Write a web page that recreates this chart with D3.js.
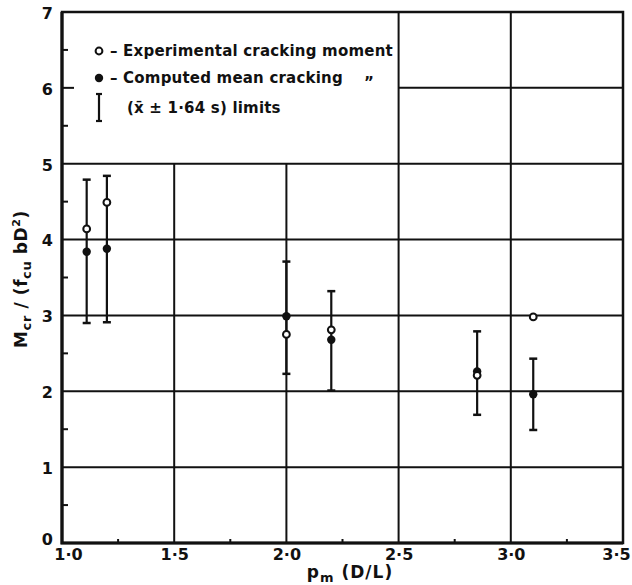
<!DOCTYPE html>
<html>
<head>
<meta charset="utf-8">
<script src="https://cdn.jsdelivr.net/npm/d3@7"></script>
<style>
  body { margin: 0; background: #fff; }
  text { font-family: "DejaVu Sans", sans-serif; fill: #111; }
  .tick text { font-weight: bold; font-size: 16px; }
</style>
</head>
<body>
<div id="chart"></div>
<script>
'use strict';

// values
const xValues = [1.11, 1.2, 2.0, 2.2, 2.85, 3.1];
const experimental = [4.14, 4.49, 2.75, 2.81, 2.21, 2.98];
const computedMean = [3.84, 3.88, 2.99, 2.68, 2.26, 1.96];
const upperLimit = [4.79, 4.84, 3.71, 3.32, 2.79, 2.43];
const lowerLimit = [2.90, 2.91, 2.23, 2.01, 1.69, 1.49];

const xTicks = [1.0, 1.5, 2.0, 2.5, 3.0, 3.5];
const xTickLabels = ["1\u00b70", "1\u00b75", "2\u00b70", "2\u00b75", "3\u00b70", "3\u00b75"];
const yTicks = [0, 1, 2, 3, 4, 5, 6, 7];
const xMinorTicks = [1.25, 1.75, 2.25, 2.75, 3.25];
const yMinorTicks = [0.5, 1.5, 2.5, 3.5, 4.5, 5.5, 6.5];

// grid segments: [value, from, to]
const hGrid = [[1, 1.0, 3.5], [2, 1.0, 3.5], [3, 1.0, 3.5], [4, 1.0, 3.5], [5, 1.0, 3.5], [6, 2.5, 3.5]];
const vGrid = [[1.5, 0, 5], [2.0, 0, 5], [2.5, 0, 7], [3.0, 0, 7]];

const width = 632, height = 585;
const plotLeft = 62, plotRight = 623, plotTop = 12, plotBottom = 543;

const svg = d3.select("#chart").append("svg")
    .attr("width", width)
    .attr("height", height);

const x = d3.scaleLinear().domain([1.0, 3.5]).range([plotLeft, plotRight]);
const y = d3.scaleLinear().domain([0, 7]).range([plotBottom, plotTop]);

// grid lines
svg.selectAll("line.hgrid")
    .data(hGrid)
    .enter()
    .append("line")
    .attr("x1", d => x(d[1]))
    .attr("x2", d => x(d[2]))
    .attr("y1", d => y(d[0]))
    .attr("y2", d => y(d[0]))
    .attr("stroke", "#111")
    .attr("stroke-width", 2);

svg.selectAll("line.vgrid")
    .data(vGrid)
    .enter()
    .append("line")
    .attr("x1", d => x(d[0]))
    .attr("x2", d => x(d[0]))
    .attr("y1", d => y(d[1]))
    .attr("y2", d => y(d[2]))
    .attr("stroke", "#111")
    .attr("stroke-width", 2);

// minor ticks
svg.selectAll("line.yminor")
    .data(yMinorTicks)
    .enter()
    .append("line")
    .attr("x1", plotLeft)
    .attr("x2", plotLeft + 6)
    .attr("y1", d => y(d))
    .attr("y2", d => y(d))
    .attr("stroke", "#111")
    .attr("stroke-width", 2);

svg.append("line")
    .attr("x1", plotLeft)
    .attr("x2", plotLeft + 12)
    .attr("y1", y(6))
    .attr("y2", y(6))
    .attr("stroke", "#111")
    .attr("stroke-width", 2);

svg.selectAll("line.xminor")
    .data(xMinorTicks)
    .enter()
    .append("line")
    .attr("x1", d => x(d))
    .attr("x2", d => x(d))
    .attr("y1", plotBottom)
    .attr("y2", plotBottom - 4)
    .attr("stroke", "#111")
    .attr("stroke-width", 2);

// frame
svg.append("rect")
    .attr("x", plotLeft)
    .attr("y", plotTop)
    .attr("width", plotRight - plotLeft)
    .attr("height", plotBottom - plotTop)
    .attr("fill", "none")
    .attr("stroke", "#111")
    .attr("stroke-width", 2.5);
svg.append("path")
    .attr("d", `M${plotLeft},${plotTop} V${plotBottom} H${plotRight}`)
    .attr("fill", "none")
    .attr("stroke", "#111")
    .attr("stroke-width", 3.2);

// axes (labels only)
const xAxis = svg.append("g")
    .attr("transform", `translate(0, ${plotBottom})`)
    .call(d3.axisBottom(x).tickValues(xTicks).tickSize(0).tickPadding(6)
        .tickFormat((d, i) => xTickLabels[i]));
xAxis.select(".domain").remove();
// first and last labels sit a little inside, as in the print
xAxis.selectAll(".tick text").attr("dx", (d, i) => i === 0 ? 6 : (i === xTicks.length - 1 ? -7 : 0));

const yAxis = svg.append("g")
    .attr("transform", `translate(${plotLeft}, 0)`)
    .call(d3.axisLeft(y).tickValues(yTicks).tickSize(0).tickPadding(9)
        .tickFormat(d3.format("d")));
yAxis.select(".domain").remove();
yAxis.selectAll(".tick text").attr("dy", d => d === 0 ? "0.1em" : "0.4em");

// axis titles
const yTitle = svg.append("text")
    .attr("transform", `translate(27, 279) rotate(-90)`)
    .attr("text-anchor", "middle")
    .attr("font-size", 17)
    .attr("letter-spacing", 0.6)
    .attr("font-weight", "bold");
yTitle.append("tspan").text("M");
yTitle.append("tspan").attr("font-size", 13).attr("dy", 4).text("cr");
yTitle.append("tspan").attr("dy", -4).text(" / (f");
yTitle.append("tspan").attr("font-size", 13).attr("dy", 4).text("cu");
yTitle.append("tspan").attr("dy", -4).text(" bD");
yTitle.append("tspan").attr("font-size", 11).attr("dy", -7).text("2");
yTitle.append("tspan").attr("dy", 7).text(")");

const xTitle = svg.append("text")
    .attr("x", 350)
    .attr("y", 578)
    .attr("text-anchor", "middle")
    .attr("font-size", 17)
    .attr("letter-spacing", 1)
    .attr("font-weight", "bold");
xTitle.append("tspan").text("p");
xTitle.append("tspan").attr("font-size", 13).attr("dy", 4).text("m");
xTitle.append("tspan").attr("dy", -4).text("  (D/L)");

// error bars
const bars = svg.append("g");
bars.selectAll("line.bar")
    .data(xValues)
    .enter()
    .append("line")
    .attr("x1", d => x(d))
    .attr("x2", d => x(d))
    .attr("y1", (d, i) => y(upperLimit[i]))
    .attr("y2", (d, i) => y(lowerLimit[i]))
    .attr("stroke", "#111")
    .attr("stroke-width", 2.2);
[upperLimit, lowerLimit].forEach(limit => {
    bars.selectAll(null)
        .data(xValues)
        .enter()
        .append("line")
        .attr("x1", d => x(d) - 4)
        .attr("x2", d => x(d) + 4)
        .attr("y1", (d, i) => y(limit[i]))
        .attr("y2", (d, i) => y(limit[i]))
        .attr("stroke", "#111")
        .attr("stroke-width", 2.5);
});

// computed mean (filled) and experimental (open) points
svg.selectAll("circle.computed")
    .data(xValues)
    .enter()
    .append("circle")
    .attr("cx", d => x(d))
    .attr("cy", (d, i) => y(computedMean[i]))
    .attr("r", 4.2)
    .attr("fill", "#111");

svg.selectAll("circle.experimental")
    .data(xValues)
    .enter()
    .append("circle")
    .attr("cx", d => x(d))
    .attr("cy", (d, i) => y(experimental[i]))
    .attr("r", 3.4)
    .attr("fill", "#fff")
    .attr("stroke", "#111")
    .attr("stroke-width", 2);

// legend
const legend = svg.append("g").attr("font-size", 15).attr("font-weight", "bold").attr("letter-spacing", 0.2);
legend.append("circle")
    .attr("cx", 99).attr("cy", 51).attr("r", 3.4)
    .attr("fill", "#fff").attr("stroke", "#111").attr("stroke-width", 2);
legend.append("text").attr("x", 110).attr("y", 56).text("\u2013  Experimental  cracking  moment");
legend.append("circle")
    .attr("cx", 99).attr("cy", 78).attr("r", 4.2).attr("fill", "#111");
legend.append("text").attr("x", 110).attr("y", 83).text("\u2013  Computed  mean  cracking");
legend.append("text").attr("x", 364).attr("y", 88).text("\u201d");
legend.append("line")
    .attr("x1", 99).attr("x2", 99).attr("y1", 94).attr("y2", 121)
    .attr("stroke", "#111").attr("stroke-width", 2.2);
legend.selectAll("line.cap")
    .data([94, 121])
    .enter()
    .append("line")
    .attr("x1", 96).attr("x2", 102)
    .attr("y1", d => d).attr("y2", d => d)
    .attr("stroke", "#111").attr("stroke-width", 2.2);
legend.append("text").attr("x", 127).attr("y", 113).text("(x\u0304 \u00b1 1\u00b764 s)  limits");
</script>
</body>
</html>
